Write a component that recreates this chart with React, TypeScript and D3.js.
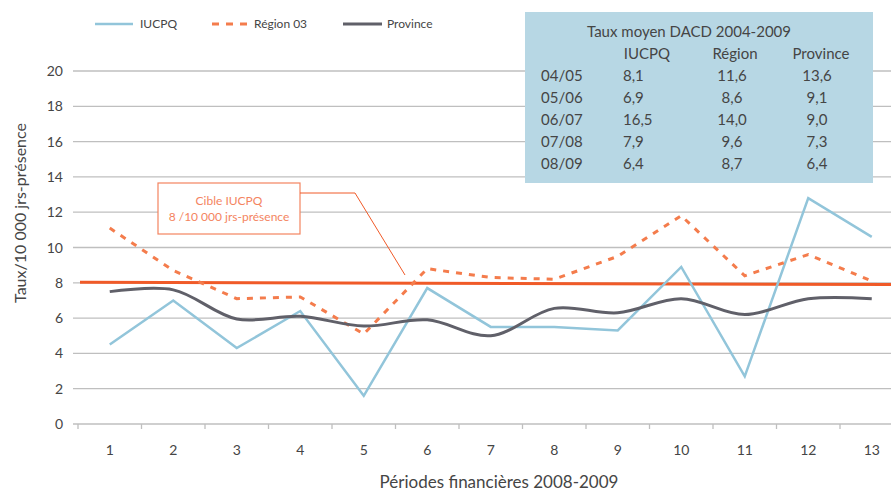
import React from "react";
import * as d3 from "d3";

const periods = ["1", "2", "3", "4", "5", "6", "7", "8", "9", "10", "11", "12", "13"];
const iucpq = [4.5, 7.0, 4.3, 6.4, 1.6, 7.7, 5.5, 5.5, 5.3, 8.9, 2.7, 12.8, 10.6];
const region03 = [11.1, 8.7, 7.1, 7.2, 5.1, 8.8, 8.3, 8.2, 9.5, 11.8, 8.4, 9.6, 8.1];
const province = [7.5, 7.6, 5.95, 6.1, 5.55, 5.9, 5.0, 6.55, 6.3, 7.1, 6.2, 7.1, 7.1];
const yTicks = [0, 2, 4, 6, 8, 10, 12, 14, 16, 18, 20];
const targetValue = [8.03, 7.9];

const tableTitle = "Taux moyen DACD 2004-2009";
const tableHeaders = ["IUCPQ", "Région", "Province"];
const tableYears = ["04/05", "05/06", "06/07", "07/08", "08/09"];
const tableIucpq = ["8,1", "6,9", "16,5", "7,9", "6,4"];
const tableRegion = ["11,6", "8,6", "14,0", "9,6", "8,7"];
const tableProvince = ["13,6", "9,1", "9,0", "7,3", "6,4"];

const W = 891;
const H = 491;
const FONT = "Lato, 'Open Sans', sans-serif";
const TXT = "#454545";

export default function App() {
  const left = 78;
  const step = 63.5;
  const x = d3
    .scaleBand<string>()
    .domain(periods)
    .range([left, left + step * periods.length])
    .padding(0);
  const y = d3.scaleLinear().domain([0, 20]).range([424, 71]);
  const cx = (i: number) => (x(periods[i]) as number) + x.bandwidth() / 2;

  const lineStraight = d3
    .line<number>()
    .x((_, i) => cx(i))
    .y((d) => y(d));
  const lineSmooth = d3
    .line<number>()
    .x((_, i) => cx(i))
    .y((d) => y(d))
    .curve(d3.curveCatmullRom.alpha(0.5));

  const boundaries = d3.range(periods.length + 1).map((i) => left + i * step);

  const tableRowY = (i: number) => 81 + i * 22;

  return (
    <div style={{ position: "absolute", left: 0, top: 0 }}>
      <svg width={W} height={H} style={{ display: "block", fontFamily: FONT }}>
        <rect x={0} y={0} width={W} height={H} fill="#ffffff" />
        {/* gridlines */}
        {yTicks.map((t) => (
          <g key={t}>
            <line x1={73} x2={W} y1={y(t)} y2={y(t)} stroke="#BFBFBF" strokeWidth={1.3} />
            <text x={63} y={y(t) + 5} textAnchor="end" fontSize={14} fill={TXT}>
              {t}
            </text>
          </g>
        ))}
        {/* x ticks */}
        {boundaries.map((b, i) => (
          <line key={i} x1={b} x2={b} y1={y(0)} y2={y(0) + 5} stroke="#BFBFBF" strokeWidth={1.3} />
        ))}
        {periods.map((p, i) => (
          <text key={p} x={cx(i)} y={455} textAnchor="middle" fontSize={14} fill={TXT}>
            {p}
          </text>
        ))}
        {/* axis titles */}
        <text x={499} y={488} textAnchor="middle" fontSize={17} fill={TXT}>
          Périodes financières 2008-2009
        </text>
        <text
          transform={`translate(26,213) rotate(-90)`}
          textAnchor="middle"
          fontSize={16}
          fill={TXT}
        >
          Taux/10 000 jrs-présence
        </text>

        {/* target line */}
        <line
          x1={80}
          x2={W}
          y1={y(targetValue[0])}
          y2={y(targetValue[1])}
          stroke="#F05A28"
          strokeWidth={3}
        />

        {/* series */}
        <path d={lineStraight(iucpq) || ""} fill="none" stroke="#92C5DA" strokeWidth={2.5} />
        <path
          d={lineStraight(region03) || ""}
          fill="none"
          stroke="#F47C4C"
          strokeWidth={3}
          strokeDasharray="6,7"
        />
        <path d={lineSmooth(province) || ""} fill="none" stroke="#606069" strokeWidth={3} />

        {/* annotation */}
        <rect x={158} y={183} width={142} height={51} fill="#ffffff" stroke="#F4845F" strokeWidth={1.2} />
        <text x={229} y={205} textAnchor="middle" fontSize={12} fill="#F4845F">
          Cible IUCPQ
        </text>
        <text x={229} y={221} textAnchor="middle" fontSize={12} fill="#F4845F">
          8 /10 000 jrs-présence
        </text>
        <polyline
          points={`300,193 355,193 405,275`}
          fill="none"
          stroke="#F05A28"
          strokeWidth={1}
        />

        {/* legend */}
        <line x1={95} x2={133} y1={24} y2={24} stroke="#92C5DA" strokeWidth={2.5} />
        <text x={140} y={28} fontSize={12} fill={TXT}>
          IUCPQ
        </text>
        <line x1={212} x2={250} y1={24} y2={24} stroke="#F47C4C" strokeWidth={3} strokeDasharray="7,7" />
        <text x={254} y={28} fontSize={12} fill={TXT}>
          Région 03
        </text>
        <line x1={343} x2={382} y1={24} y2={24} stroke="#606069" strokeWidth={3} />
        <text x={387} y={28} fontSize={12} fill={TXT}>
          Province
        </text>

        {/* table */}
        <rect x={525} y={12} width={348} height={171} fill="#B7D7E4" />
        <text x={689} y={37} textAnchor="middle" fontSize={15} fill={TXT}>
          {tableTitle}
        </text>
        <text x={647} y={59} textAnchor="middle" fontSize={15} fill={TXT}>
          {tableHeaders[0]}
        </text>
        <text x={735} y={59} textAnchor="middle" fontSize={15} fill={TXT}>
          {tableHeaders[1]}
        </text>
        <text x={821} y={59} textAnchor="middle" fontSize={15} fill={TXT}>
          {tableHeaders[2]}
        </text>
        {tableYears.map((yr, i) => (
          <g key={yr}>
            <text x={541} y={tableRowY(i)} fontSize={15} fill={TXT}>
              {yr}
            </text>
            <text x={623} y={tableRowY(i)} fontSize={15} fill={TXT}>
              {tableIucpq[i]}
            </text>
            <text x={732} y={tableRowY(i)} textAnchor="middle" fontSize={15} fill={TXT}>
              {tableRegion[i]}
            </text>
            <text x={817} y={tableRowY(i)} textAnchor="middle" fontSize={15} fill={TXT}>
              {tableProvince[i]}
            </text>
          </g>
        ))}
      </svg>
    </div>
  );
}
